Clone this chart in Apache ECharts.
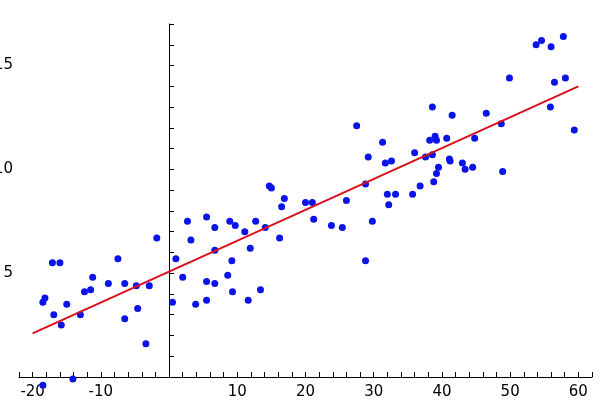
<!DOCTYPE html>
<html><head><meta charset="utf-8">
<script src="https://cdn.jsdelivr.net/npm/echarts@6/dist/echarts.min.js"></script>
<style>html,body{margin:0;padding:0;background:#fff}#c{width:600px;height:406px}</style>
</head><body><div id="c"></div>
<script>
const pointsX = [-18.5,-18.5,-18.2,-17.1,-16.9,-16.0,-15.8,-15.0,-14.1,-13.0,-12.4,-11.5,-11.2,-8.9,-7.5,-6.5,-6.5,-4.8,-4.6,-3.4,-2.9,-1.8,0.5,1.0,2.0,2.7,3.2,3.9,5.5,5.5,5.5,6.7,6.7,6.7,8.6,8.9,9.2,9.3,9.7,11.1,11.6,11.9,12.7,13.4,14.1,14.7,15.0,16.2,16.5,16.9,20.0,21.0,21.2,23.8,25.4,26.0,27.5,28.8,28.8,29.2,29.8,31.3,31.7,32.0,32.2,32.6,33.2,35.7,36.0,36.8,37.6,38.2,38.6,38.6,38.8,39.0,39.2,39.2,39.5,40.7,41.1,41.2,41.5,43.0,43.4,44.5,44.8,46.5,48.7,48.9,49.9,53.8,54.6,56.0,55.9,56.5,57.8,58.1,59.4];
const pointsY = [-0.4,3.6,3.8,5.5,3.0,5.5,2.5,3.5,-0.1,3.0,4.1,4.2,4.8,4.5,5.7,4.5,2.8,4.4,3.3,1.6,4.4,6.7,3.6,5.7,4.8,7.5,6.6,3.5,7.7,4.6,3.7,7.2,6.1,4.5,4.9,7.5,5.6,4.1,7.3,7.0,3.7,6.2,7.5,4.2,7.2,9.2,9.1,6.7,8.2,8.6,8.4,8.4,7.6,7.3,7.2,8.5,12.1,9.3,5.6,10.6,7.5,11.3,10.3,8.8,8.3,10.4,8.8,8.8,10.8,9.2,10.6,11.4,10.7,13.0,9.4,11.6,11.4,9.8,10.1,11.5,10.5,10.4,12.6,10.3,10.0,10.1,11.5,12.7,12.2,9.9,14.4,16.0,16.2,15.9,13.0,14.2,16.4,14.4,11.9];
const fitX = [-20, 60];
const fitY = [2.1, 14.0];
const xTickLabels = [-20,-10,10,20,30,40,50,60];
const yTickLabels = [5,10,15];

const chart = echarts.init(document.getElementById('c'));
const font = {fontFamily:'DejaVu Sans', fontSize:15, color:'#000'};
chart.setOption({
  animation:false,
  grid:{left:19, right:8, top:24, bottom:29, containLabel:false, outerBoundsMode:'none'},
  xAxis:{type:'value', min:-22, max:62, interval:2,
    axisLine:{lineStyle:{color:'#000',width:1}},
    axisTick:{inside:true,length:5,lineStyle:{color:'#000'}},
    splitLine:{show:false},
    axisLabel:Object.assign({margin:8, formatter:v=>xTickLabels.includes(Math.round(v))?String(Math.round(v)):''},font)},
  yAxis:{type:'value', min:0, max:17, interval:1,
    axisLine:{onZero:true,lineStyle:{color:'#000',width:1}},
    axisTick:{inside:true,length:5,lineStyle:{color:'#000'}},
    splitLine:{show:false},
    axisLabel:Object.assign({margin:6, formatter:v=>yTickLabels.includes(Math.round(v))?String(Math.round(v)):''},font)},
  series:[
    {type:'line', data:fitX.map((x,i)=>[x,fitY[i]]), symbol:'none', lineStyle:{color:'#d8101a',width:2}, z:3},
    {type:'scatter', data:pointsX.map((x,i)=>[x,pointsY[i]]), symbolSize:7, itemStyle:{color:'#0a14e6',opacity:1}, clip:false, z:2}
  ]
});
</script></body></html>
